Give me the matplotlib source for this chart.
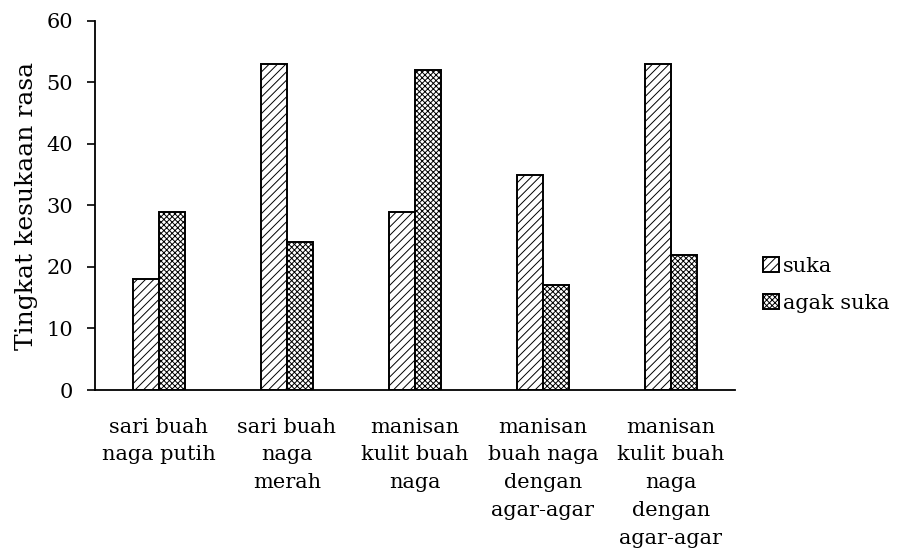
import matplotlib
matplotlib.use('Agg')
import matplotlib.pyplot as plt
import numpy as np

plt.rcParams['font.family'] = ['DejaVu Serif']
plt.rcParams['hatch.linewidth'] = 0.7

categories = ['sari buah\nnaga putih', 'sari buah\nnaga\nmerah', 'manisan\nkulit buah\nnaga',
              'manisan\nbuah naga\ndengan\nagar-agar', 'manisan\nkulit buah\nnaga\ndengan\nagar-agar']
suka = [18, 53, 29, 35, 53]
agak_suka = [29, 24, 52, 17, 22]

x = np.arange(len(categories))
w = 0.2

fig = plt.figure(figsize=(9.09, 5.5), dpi=100)
ax = fig.add_axes([0.1045, 0.2909, 0.704, 0.671])

ax.bar(x - w / 2, suka, w, color='white', edgecolor='black', hatch='////', linewidth=1.4, label='suka')
ax.bar(x + w / 2, agak_suka, w, color='white', edgecolor='black', hatch='xxxxxx', linewidth=1.4, label='agak suka')

ax.set_xlim(-0.5, len(categories) - 0.5)
ax.set_ylim(0, 60)
ax.set_yticks(range(0, 61, 10))
ax.set_xticks(x)
ax.set_xticklabels(categories, fontsize=15, va='top', linespacing=1.58)
ax.tick_params(axis='x', length=0, pad=20)
ax.tick_params(axis='y', labelsize=15, direction='out', length=6, width=1.2, pad=10)
ax.set_ylabel('Tingkat kesukaan rasa', fontsize=18, labelpad=6)
ax.spines['top'].set_visible(False)
ax.spines['right'].set_visible(False)
ax.spines['left'].set_linewidth(1.3)
ax.spines['bottom'].set_linewidth(1.3)

ax.legend(loc='center left', bbox_to_anchor=(1.044, 0.285), frameon=False, fontsize=15,
          handlelength=0.75, handleheight=0.75, handletextpad=0.2, labelspacing=0.85, borderpad=0,
          borderaxespad=0)

fig.savefig('out.png', dpi=100)
